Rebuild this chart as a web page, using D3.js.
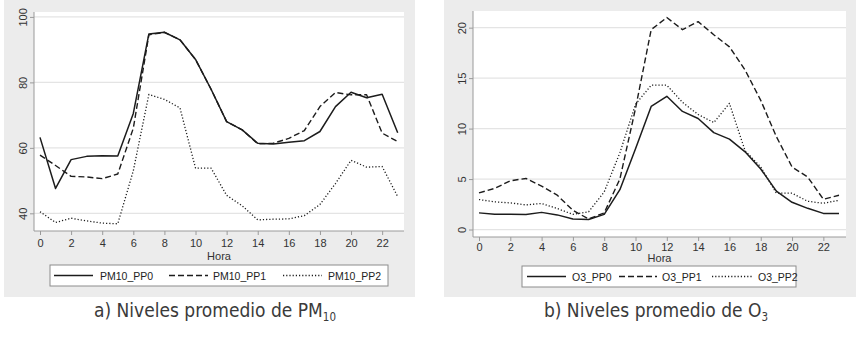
<!DOCTYPE html>
<html lang="es">
<head>
    <meta charset="UTF-8">
    <title>Niveles promedio</title>
    <script src="https://d3js.org/d3.v7.min.js"></script>
    <style>
        body { margin: 0; background: #fff; }
        svg { display: block; }
    </style>
</head>
<body>
<svg id="chart"></svg>

<script>
    // horas del día
    var hours = [0, 1, 2, 3, 4, 5, 6, 7, 8, 9, 10, 11, 12, 13, 14, 15, 16, 17, 18, 19, 20, 21, 22, 23];
    var hourTicks = [0, 2, 4, 6, 8, 10, 12, 14, 16, 18, 20, 22];

    // PM10 (panel a)
    var pm10_pp0 = [63.2, 47.6, 56.4, 57.4, 57.6, 57.5, 70.5, 94.8, 95.3, 93.0, 87.0, 77.9, 68.0, 65.5, 61.4, 61.2, 61.7, 62.2, 65.0, 72.6, 77.0, 75.3, 76.4, 64.6];
    var pm10_pp1 = [57.8, 54.6, 51.3, 51.1, 50.6, 52.0, 66.0, 94.5, 95.3, 93.0, 87.0, 77.9, 68.0, 65.5, 61.2, 61.4, 62.9, 65.3, 72.6, 76.9, 76.2, 76.2, 64.5, 61.9];
    var pm10_pp2 = [40.5, 37.2, 38.5, 37.7, 37.0, 36.8, 53.0, 76.3, 74.8, 72.2, 53.8, 53.8, 45.5, 42.3, 38.0, 38.2, 38.3, 39.3, 42.7, 49.1, 56.2, 54.1, 54.3, 45.1];
    var pm10Ticks = [40, 60, 80, 100];
    var pm10Names = ["PM10_PP0", "PM10_PP1", "PM10_PP2"];

    // O3 (panel b)
    var o3_pp0 = [1.65, 1.52, 1.52, 1.5, 1.7, 1.45, 1.05, 1.0, 1.5, 3.95, 8.0, 12.2, 13.2, 11.7, 11.0, 9.6, 8.96, 7.7, 6.0, 3.8, 2.7, 2.1, 1.6, 1.6];
    var o3_pp1 = [3.63, 4.07, 4.83, 5.06, 4.3, 3.4, 1.9, 1.05, 1.65, 5.0, 12.0, 19.8, 21.0, 19.8, 20.6, 19.3, 18.1, 15.8, 12.8, 9.2, 6.2, 5.2, 3.0, 3.4];
    var o3_pp2 = [2.97, 2.74, 2.64, 2.44, 2.58, 2.08, 1.5, 1.75, 3.73, 7.6, 12.4, 14.3, 14.3, 12.6, 11.4, 10.6, 12.5, 7.8, 6.2, 3.6, 3.6, 2.8, 2.6, 2.9];
    var o3Ticks = [0, 5, 10, 15, 20];
    var o3Names = ["O3_PP0", "O3_PP1", "O3_PP2"];

    var width = 867, height = 352;
    var svg = d3.select("#chart").attr("width", width).attr("height", height);

    // estilos de las tres series: sólida, guiones, puntos
    var styles = [
        { dash: null, w: 1.5 },
        { dash: "6,3", w: 1.4 },
        { dash: "1.2,2", w: 1.3 }
    ];
    var tickFont = "'Liberation Sans', Arial, sans-serif";

    function drawPanel(p) {
        var g = svg.append("g");

        // fondo gris tipo Stata
        g.append("rect")
            .attr("x", p.bg[0]).attr("y", 0)
            .attr("width", p.bg[1] - p.bg[0]).attr("height", 297)
            .attr("fill", "#ececec");

        // área de gráfico
        g.append("rect")
            .attr("x", p.plot[0]).attr("y", p.plot[1])
            .attr("width", p.plot[2] - p.plot[0]).attr("height", p.plot[3] - p.plot[1])
            .attr("fill", "#fff");

        var x = d3.scaleLinear().domain([0, 23]).range(p.xr);
        var y = d3.scaleLinear().domain(p.yDomain).range([p.plot[3], p.plot[1]]);

        // rejilla horizontal
        g.selectAll(".grid")
            .data(p.yTicks)
            .enter().append("line")
            .attr("x1", p.plot[0]).attr("x2", p.plot[2])
            .attr("y1", function(d) { return y(d); })
            .attr("y2", function(d) { return y(d); })
            .attr("stroke", "#e4e4e4").attr("stroke-width", 1.2);

        // ejes
        var yAxis = g.append("g")
            .attr("transform", "translate(" + p.plot[0] + ",0)")
            .call(d3.axisLeft(y).tickValues(p.yTicks).tickSize(4).tickPadding(5));

        var xAxis = g.append("g")
            .attr("transform", "translate(0," + p.plot[3] + ")")
            .call(d3.axisBottom(x).tickValues(hourTicks).tickSize(4).tickPadding(p.xPad));

        g.selectAll(".domain").attr("stroke", "#9a9a9a");
        g.selectAll(".tick line").attr("stroke", "#9a9a9a");
        g.selectAll(".tick text")
            .attr("fill", "#333")
            .style("font-family", tickFont)
            .style("font-size", "11px");
        // etiquetas del eje y giradas, como en Stata
        yAxis.selectAll(".tick text")
            .attr("x", -7).attr("y", 0).attr("dy", "0")
            .attr("transform", "rotate(-90,-7,0)")
            .attr("text-anchor", "middle");
        // domain sin extremos salientes
        yAxis.select(".domain").attr("d", "M0," + p.plot[1] + "V" + p.plot[3]);
        xAxis.select(".domain").attr("d", "M" + p.plot[0] + ",0H" + p.plot[2]);

        g.append("text")
            .attr("x", (p.plot[0] + p.plot[2]) / 2)
            .attr("y", p.horaY)
            .attr("text-anchor", "middle")
            .attr("fill", "#333")
            .style("font-family", tickFont)
            .style("font-size", "11px")
            .text("Hora");

        // líneas
        var line = d3.line()
            .x(function(d, i) { return x(hours[i]); })
            .y(function(d) { return y(d); });

        g.selectAll(".serie")
            .data(p.series)
            .enter().append("path")
            .attr("d", line)
            .attr("fill", "none")
            .attr("stroke", "#1c1c1c")
            .attr("stroke-width", function(d, i) { return styles[i].w; })
            .attr("stroke-dasharray", function(d, i) { return styles[i].dash; })
            .attr("stroke-linejoin", "round");

        // leyenda
        var lg = p.legend;
        g.append("rect")
            .attr("x", lg.box[0]).attr("y", lg.box[1])
            .attr("width", lg.box[2] - lg.box[0]).attr("height", lg.box[3] - lg.box[1])
            .attr("fill", "#fff").attr("stroke", "#8c8c8c").attr("stroke-width", 1);
        var cy = (lg.box[1] + lg.box[3]) / 2;
        p.names.forEach(function(name, i) {
            var it = lg.items[i];
            g.append("line")
                .attr("x1", it[0]).attr("x2", it[1])
                .attr("y1", cy).attr("y2", cy)
                .attr("stroke", "#1c1c1c")
                .attr("stroke-width", styles[i].w)
                .attr("stroke-dasharray", styles[i].dash);
            g.append("text")
                .attr("x", it[2]).attr("y", cy + 4)
                .attr("fill", "#222")
                .style("font-family", tickFont)
                .style("font-size", "10.5px")
                .text(name);
        });

        // pie de figura
        var cap = svg.append("text")
            .attr("x", p.capX).attr("y", 317)
            .attr("text-anchor", "middle")
            .attr("fill", "#3a3a3a")
            .style("font-family", "'DejaVu Sans', sans-serif")
            .style("font-stretch", "condensed")
            .style("font-size", "19px");
        cap.append("tspan").text(p.caption);
        cap.append("tspan")
            .attr("dy", 4)
            .style("font-size", "11.5px")
            .text(p.sub);
    }

    drawPanel({
        bg: [4, 415],
        plot: [34, 12, 404, 231],
        xr: [40, 397.7],
        yDomain: [34.6, 101.5],
        yTicks: pm10Ticks,
        xPad: 4,
        horaY: 260,
        series: [pm10_pp0, pm10_pp1, pm10_pp2],
        names: pm10Names,
        legend: {
            box: [50, 265, 388, 286],
            items: [[54, 93, 100], [169, 208, 213], [283, 322, 328]]
        },
        capX: 215,
        caption: "a) Niveles promedio de PM",
        sub: "10"
    });

    drawPanel({
        bg: [444, 856],
        plot: [473, 11, 846, 237],
        xr: [479, 839],
        yDomain: [-0.74, 21.65],
        yTicks: o3Ticks,
        xPad: 2,
        horaY: 262,
        series: [o3_pp0, o3_pp1, o3_pp2],
        names: o3Names,
        legend: {
            box: [522, 266, 796, 287],
            items: [[527, 566, 572], [619, 657, 662], [712, 752, 758]]
        },
        capX: 656,
        caption: "b) Niveles promedio de O",
        sub: "3"
    });
</script>
</body>
</html>
